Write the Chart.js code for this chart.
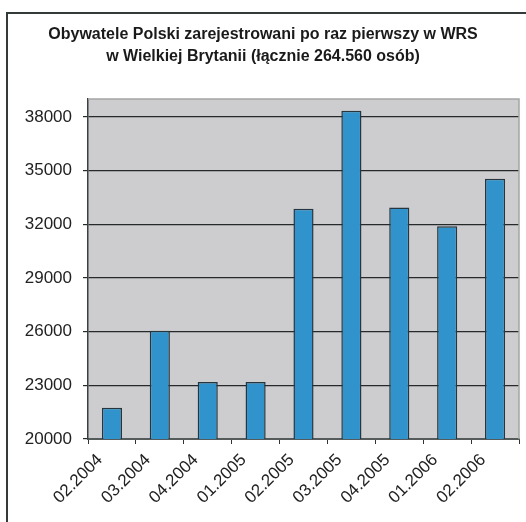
<!DOCTYPE html>
<html lang="pl">
<head>
    <meta charset="UTF-8">
    <title>Obywatele Polski zarejestrowani w WRS</title>
    <script src="https://cdn.jsdelivr.net/npm/chart.js"></script>
    <style>
        html, body {
            margin: 0;
            padding: 0;
            background: #ffffff;
        }
        .chart-box {
            position: relative;
            width: 526px;
            height: 522px;
        }
    </style>
</head>
<body>

<div class="chart-box">
    <canvas id="wrsChart"></canvas>
</div>

<script>
    // Miesiące rejestracji i liczba osób
    const months = ['02.2004', '03.2004', '04.2004', '01.2005', '02.2005', '03.2005', '04.2005', '01.2006', '02.2006'];
    const registered = [21750, 26050, 23190, 23190, 32860, 38340, 32930, 31890, 34550];
    const yTicks = [20000, 23000, 26000, 29000, 32000, 35000, 38000];
    const titleLines = ['Obywatele Polski zarejestrowani po raz pierwszy w WRS', 'w Wielkiej Brytanii (łącznie 264.560 osób)'];
    const yMin = 20000;
    const yMax = 39000;

    const fontFamily = '"Liberation Sans", Arial, sans-serif';

    // tło, ramka i tytuł
    const frame = {
        id: 'frame',
        beforeDraw(chart) {
            const ctx = chart.ctx;
            const a = chart.chartArea;
            ctx.save();
            ctx.fillStyle = '#ffffff';
            ctx.fillRect(0, 0, chart.width, chart.height);
            ctx.fillStyle = '#cdcdcf';
            ctx.fillRect(a.left, a.top, a.right - a.left, a.bottom - a.top);
            // obramowanie całego wykresu
            ctx.strokeStyle = '#333a3a';
            ctx.lineWidth = 2;
            ctx.beginPath();
            ctx.moveTo(7, chart.height);
            ctx.lineTo(7, 13);
            ctx.lineTo(chart.width, 13);
            ctx.stroke();
            ctx.restore();
        },
        afterDraw(chart) {
            const ctx = chart.ctx;
            const a = chart.chartArea;
            ctx.save();
            ctx.strokeStyle = '#a4a6a6';
            ctx.lineWidth = 1.5;
            ctx.beginPath();
            ctx.moveTo(a.left, a.top);
            ctx.lineTo(a.right, a.top);
            ctx.lineTo(a.right, a.bottom);
            ctx.stroke();
            ctx.fillStyle = '#1a1a1a';
            ctx.font = 'bold 16px ' + fontFamily;
            ctx.textAlign = 'center';
            ctx.textBaseline = 'middle';
            titleLines.forEach((line, i) => ctx.fillText(line, 263, 35 + i * 22));
            ctx.restore();
        }
    };

    new Chart(document.getElementById('wrsChart'), {
        type: 'bar',
        data: {
            labels: months,
            datasets: [{
                data: registered,
                backgroundColor: '#3193cb',
                borderColor: '#27353e',
                borderWidth: 1.5,
                barPercentage: 0.42,
                categoryPercentage: 1
            }]
        },
        options: {
            responsive: true,
            maintainAspectRatio: false,
            animation: false,
            layout: {
                padding: { top: 99, right: 7, left: 0, bottom: 0 }
            },
            plugins: {
                legend: { display: false },
                title: { display: false },
                tooltip: { enabled: false }
            },
            scales: {
                x: {
                    afterFit(scale) { scale.height = 83; },
                    border: { color: '#555a5a', width: 2 },
                    grid: {
                        offset: true,
                        drawOnChartArea: false,
                        color: '#333',
                        tickLength: 5
                    },
                    ticks: {
                        minRotation: 45,
                        maxRotation: 45,
                        padding: 6,
                        labelOffset: -12,
                        color: '#222',
                        font: { family: fontFamily, size: 17 }
                    }
                },
                y: {
                    min: yMin,
                    max: yMax,
                    afterFit(scale) { scale.width = 88; },
                    afterBuildTicks(scale) {
                        scale.ticks = yTicks.map(v => ({ value: v }));
                    },
                    border: { color: '#3a3f3f', width: 1.5 },
                    grid: {
                        color: '#262a2a',
                        lineWidth: 1.2,
                        tickLength: 5
                    },
                    ticks: {
                        padding: 11,
                        color: '#222',
                        font: { family: fontFamily, size: 17 },
                        callback: v => String(v)
                    }
                }
            }
        },
        plugins: [frame]
    });
</script>
</body>
</html>
